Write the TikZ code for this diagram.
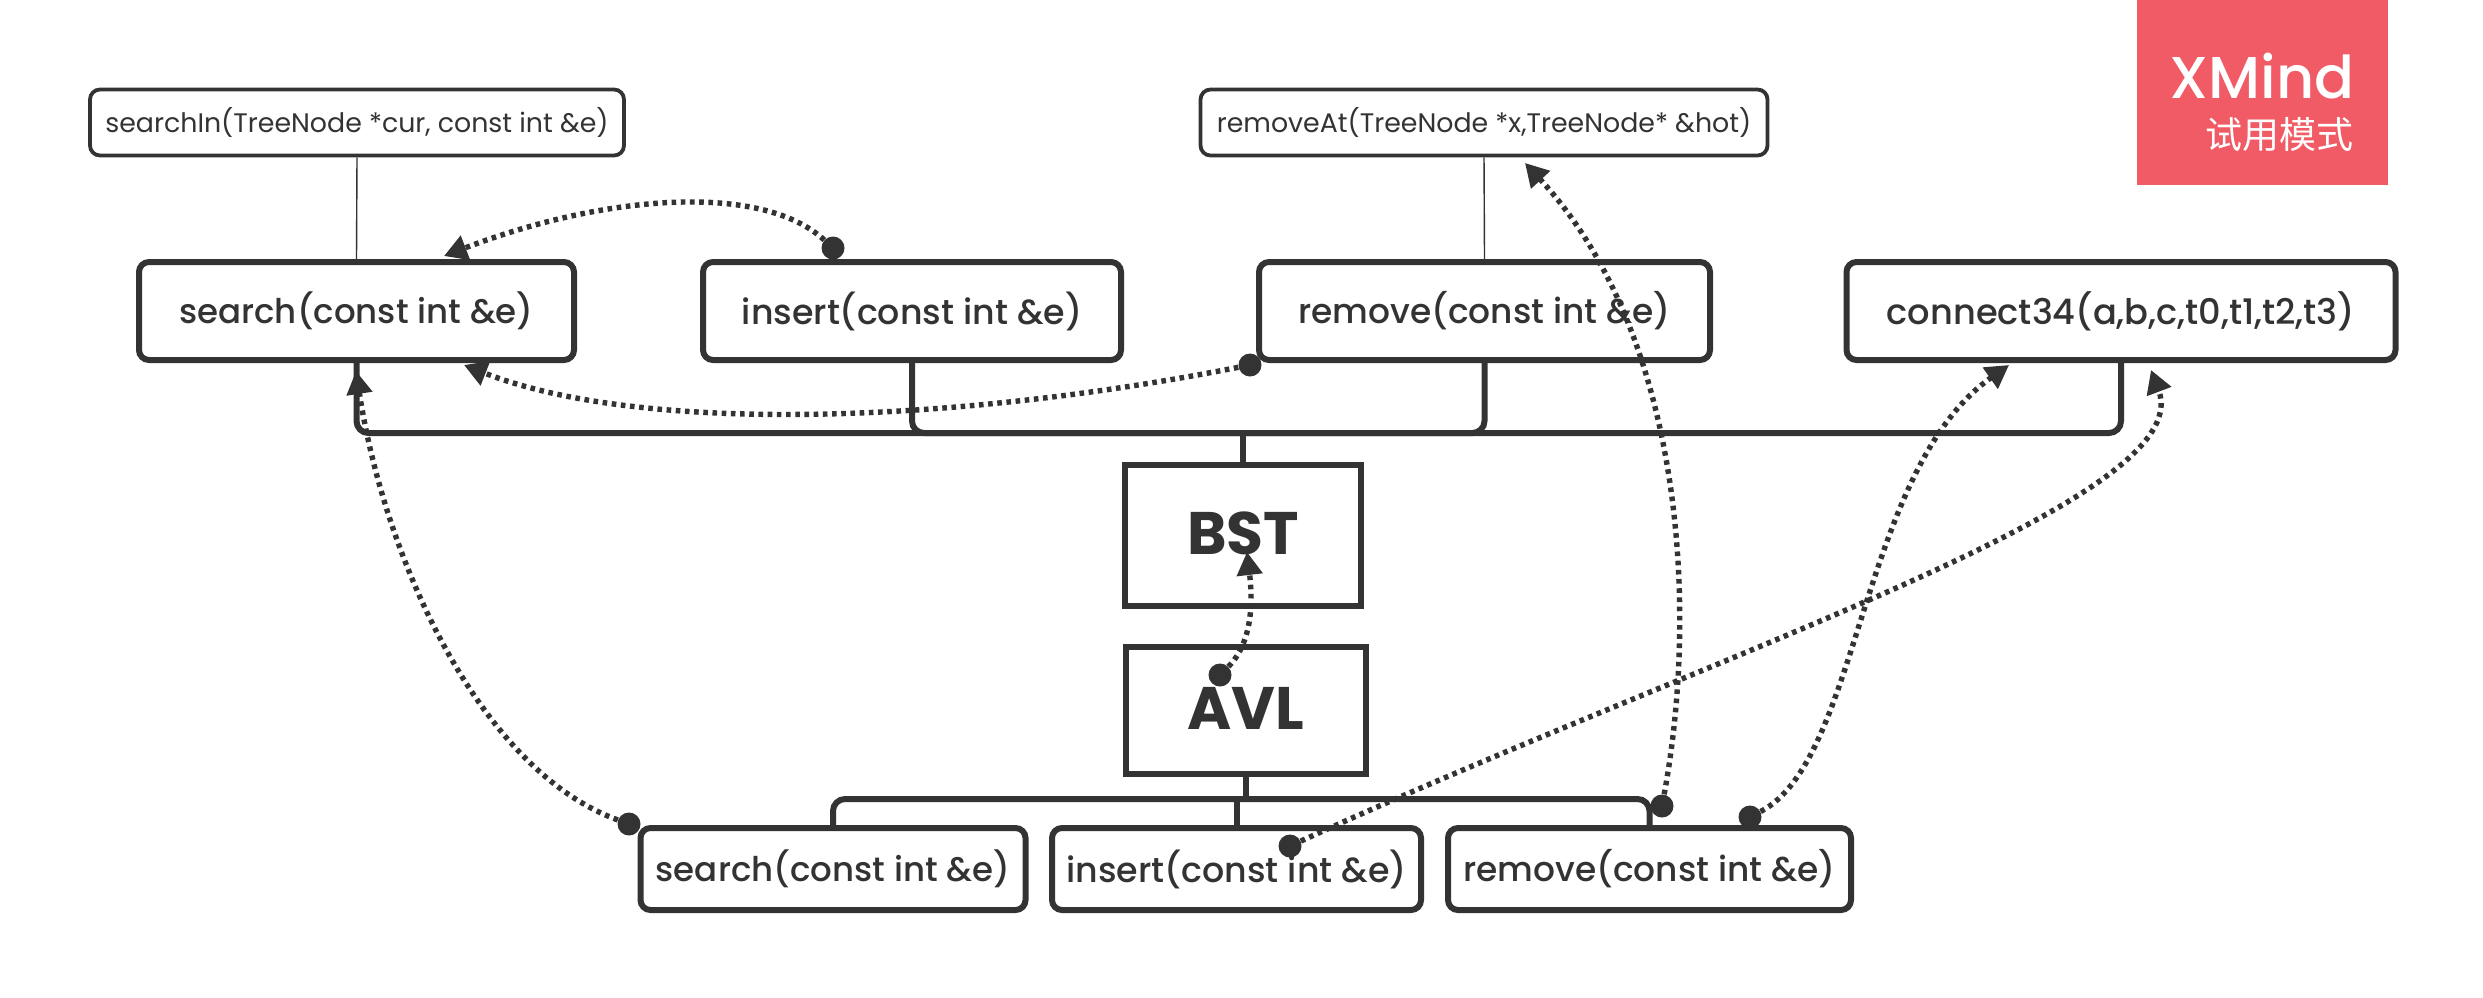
\documentclass[tikz,border=0pt]{standalone}
\usepackage{fontspec}
\setmainfont{Poppins}
\newfontfamily\medf{Poppins Medium}
\newfontfamily\cjk{Noto Sans CJK SC}
\usetikzlibrary{arrows.meta}
\definecolor{ink}{HTML}{333333}
\definecolor{brandred}{HTML}{F15B65}
\tikzset{
  base/.style={draw=ink,text=ink,rounded corners=5pt,fill=white,inner sep=0pt,align=center},
  subbox/.style={base,line width=1.9pt,minimum height=33pt,font=\fontsize{13.4}{15}\selectfont},
  topbox/.style={base,line width=3pt,minimum height=49pt,font=\medf\fontsize{17}{18}\selectfont},
  lowbox/.style={base,line width=3pt,minimum height=41pt,font=\medf\fontsize{17}{18}\selectfont},
  mainbox/.style={draw=ink,text=ink,fill=white,line width=3pt,inner sep=0pt,sharp corners,font=\bfseries\fontsize{30}{32}\selectfont},
  tree/.style={draw=ink,line width=3pt,rounded corners=6pt},
  thinlink/.style={draw=ink,line width=.7pt},
  dot/.style={circle,fill=ink,inner sep=0pt,minimum size=11.5pt},
  rel/.style={draw=ink,line width=2.7pt,dash pattern=on 2.3pt off 2.3pt,-{Triangle[length=11.5pt,width=12.5pt,fill=ink]}},
}
\begin{document}
\begin{tikzpicture}[x=0.5pt,y=-0.5pt]
\useasboundingbox (0,0) rectangle (2483,997);
\fill[white] (0,0) rectangle (2483,997);
% junctions
\coordinate (trunk) at (1243,433);
\coordinate (lowbar) at (1246,799);
% boxes
\node[mainbox,minimum width=118pt,minimum height=70.5pt] (bst) at (1243,535) {\raisebox{1.5pt}{BST}};
\node[mainbox,minimum width=120pt,minimum height=63.5pt] (avl) at (1246,710) {\raisebox{1.5pt}{AVL}};
\node[subbox,minimum width=267pt] (searchin) at (357,122.5) {searchIn(TreeNode *cur, const int \&e)};
\node[subbox,minimum width=283.5pt] (removeat) at (1484,122.5) {removeAt(TreeNode *x,TreeNode* \&hot)};
\node[topbox,minimum width=217.5pt] (search) at (356.5,311) {\raisebox{1pt}{search(const int \&e)}};
\node[topbox,minimum width=209pt] (insert) at (912,311) {\raisebox{1pt}{\fontsize{17.4}{18}\selectfont insert(const int \&e)}};
\node[topbox,minimum width=225.5pt] (remove) at (1484.5,311) {\raisebox{1pt}{\fontsize{17.2}{18}\selectfont remove(const int \&e)}};
\node[topbox,minimum width=274.5pt] (connect) at (2121,311) {\raisebox{1pt}{\fontsize{17.6}{18}\selectfont connect34(a,b,c,t0,t1,t2,t3)}};
\node[lowbox,minimum width=192.5pt] (lsearch) at (833,869) {\raisebox{1pt}{search(const int \&e)}};
\node[lowbox,minimum width=184.5pt] (linsert) at (1236.5,869) {\raisebox{1pt}{\fontsize{17.4}{18}\selectfont insert(const int \&e)}};
\node[lowbox,minimum width=201.5pt] (lremove) at (1649.5,869) {\raisebox{1pt}{\fontsize{17.2}{18}\selectfont remove(const int \&e)}};
% tree links
\draw[thinlink] (searchin.south) -- (search.north);
\draw[thinlink] (removeat.south) -- (remove.north);
\draw[tree] (search.south) |- (trunk) -| (connect.south);
\draw[tree] (insert.south) |- (trunk);
\draw[tree] (remove.south) |- (trunk);
\draw[tree] (bst.north) -- (trunk);
\draw[tree] (avl.south) -- (lowbar);
\draw[tree] (lsearch.north) |- (lowbar) -| (lremove.north);
\draw[tree,sharp corners] (linsert.north) -- (linsert.north |- lowbar);
% watermark
\fill[brandred] (2137,0) rectangle (2388,185);
\node[anchor=base east,text=white,inner sep=0pt,font=\medf\fontsize{29.5}{32}\selectfont] (xmind) at (2355,98) {XMind};
\node[anchor=base east,text=white,inner sep=0pt,font=\cjk\fontsize{18.5}{20}\selectfont] (trial) at (2354,148) {试用模式};
% relationship ends
\node[dot] (d1) at (833,248) {};
\node[dot] (d2) at (1250,365) {};
\node[dot] (d3) at (629,824) {};
\node[dot] (d4) at (1220,675) {};
\node[dot] (d5) at (1662,806) {};
\node[dot] (d6) at (1750,817) {};
\node[dot] (d7) at (1290,846) {};
\coordinate (t1) at (444,256);
\coordinate (t2) at (464,365);
\coordinate (t3) at (356,371);
\coordinate (t4) at (1247,552);
\coordinate (t5) at (1525,163);
\coordinate (t6) at (2009,365);
\coordinate (t7) at (2151,370);
\draw[rel] (d1) .. controls (760,181) and (600,196) .. (t1);
\draw[rel] (d2) .. controls (950,424) and (640,434) .. (t2);
\draw[rel] (d3) .. controls (480,770) and (385,560) .. (t3);
\draw[rel] (d4) .. controls (1245,650) and (1255,620) .. (t4);
\draw[rel] (d5) .. controls (1700,600) and (1680,330) .. (t5);
\draw[rel] (d6) .. controls (1860,760) and (1860,470) .. (t6);
\draw[rel] (d7) .. controls (1720,650) and (2200,500) .. (t7);
\end{tikzpicture}
\end{document}
